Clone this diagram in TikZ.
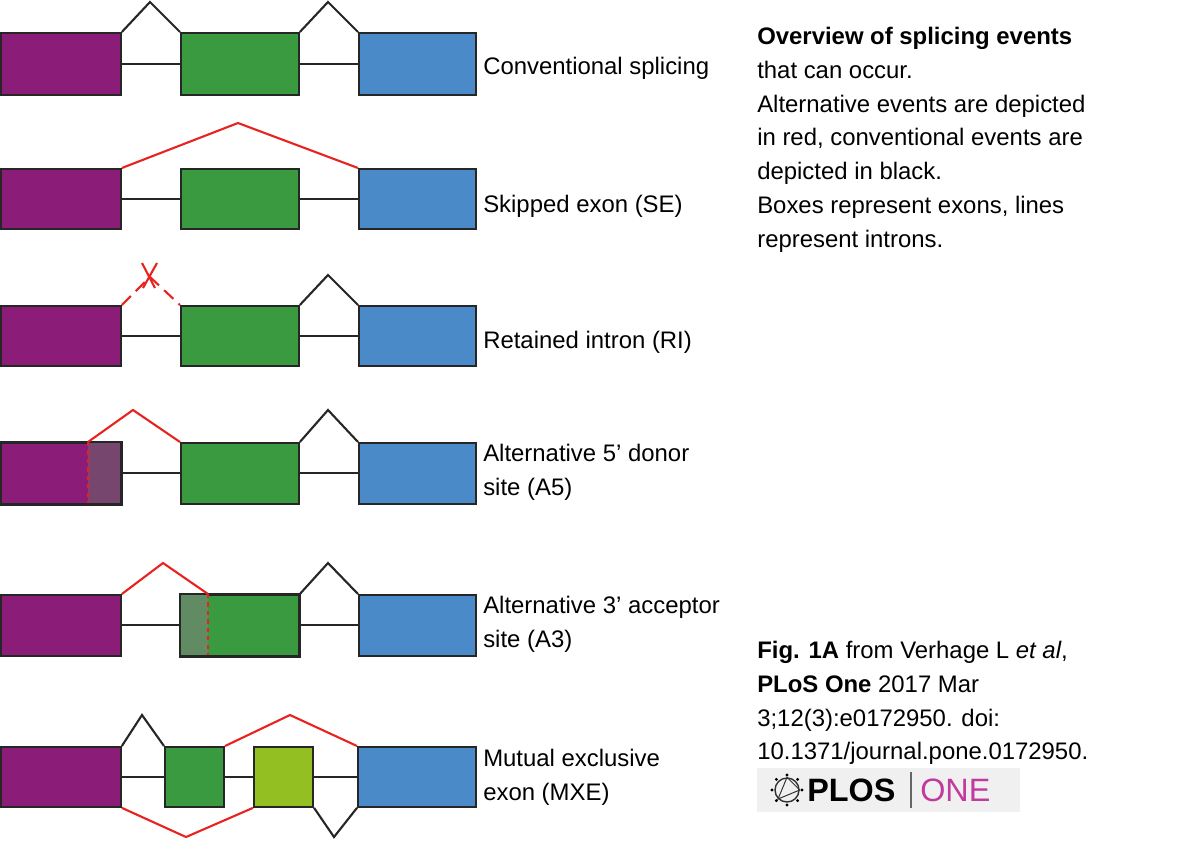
\documentclass[tikz,border=0pt]{standalone}
\usepackage{fontspec}
\setmainfont{Liberation Sans}
\usetikzlibrary{positioning}
\definecolor{exonA}{HTML}{8B1C77}
\definecolor{exonB}{HTML}{3A9A40}
\definecolor{exonC}{HTML}{4A8AC9}
\definecolor{exonD}{HTML}{93BF22}
\definecolor{altred}{HTML}{E8231F}
\definecolor{plosmag}{HTML}{C23A9E}
\tikzset{
  exon/.style={draw=black!85, line width=1.3pt, inner sep=0pt, anchor=north west},
  intron/.style={draw=black!85, line width=1.5pt},
  alt/.style={draw=altred, line width=1.5pt},
  lab/.style={anchor=west, align=left, font=\fontsize{17}{24}\selectfont, inner sep=0pt}
}
\begin{document}
\begin{tikzpicture}[x=0.025cm, y=-0.025cm]
    \useasboundingbox (0,0) rectangle (1200,842);
    % conventional splicing
    \node[exon, fill=exonA, minimum width=3cm, minimum height=1.55cm] (p1) at (0,32) {};
    \node[exon, fill=exonB, minimum width=2.95cm, minimum height=1.55cm] (g1) at (180,32) {};
    \node[exon, fill=exonC, minimum width=2.93cm, minimum height=1.55cm] (b1) at (358,32) {};
    \draw[intron] (p1) -- (g1);
    \draw[intron] (g1) -- (b1);
    \draw[intron] (p1.north east) -- (150,2) -- (g1.north west);
    \draw[intron] (g1.north east) -- (328,2) -- (b1.north west);
    \node[lab] (l1) at (483,68) {Conventional splicing};
    % skipped exon
    \node[exon, fill=exonA, minimum width=3cm, minimum height=1.5cm] (p2) at (0,168) {};
    \node[exon, fill=exonB, minimum width=2.95cm, minimum height=1.5cm] (g2) at (180,168) {};
    \node[exon, fill=exonC, minimum width=2.93cm, minimum height=1.5cm] (b2) at (358,168) {};
    \draw[intron] (p2) -- (g2);
    \draw[intron] (g2) -- (b2);
    \draw[alt] (p2.north east) -- (238,123) -- (b2.north west);
    \node[lab] (l2) at (483,206) {Skipped exon (SE)};
    % retained intron
    \node[exon, fill=exonA, minimum width=3cm, minimum height=1.5cm] (p3) at (0,305) {};
    \node[exon, fill=exonB, minimum width=2.95cm, minimum height=1.5cm] (g3) at (180,305) {};
    \node[exon, fill=exonC, minimum width=2.93cm, minimum height=1.5cm] (b3) at (358,305) {};
    \draw[intron] (p3) -- (g3);
    \draw[intron] (g3) -- (b3);
    \draw[alt, dashed, dash pattern=on 9pt off 5pt] (p3.north east) -- (150,277) -- (g3.north west);
    \draw[alt] (142,263) -- (155,288);
    \draw[alt] (157,263) -- (143,288);
    \draw[intron] (g3.north east) -- (328,275) -- (b3.north west);
    \node[lab] (l3) at (483,342) {Retained intron (RI)};
    % alternative 5' donor
    \node[exon, fill=exonA, minimum width=3cm, minimum height=1.52cm] (p4) at (0,442) {};
    \fill[fill=black!20!exonA!55!gray] (88,442) rectangle (120,503);
    \draw[draw=black!85, line width=1.3pt] (p4.north west) rectangle (p4.south east);
    \draw[alt, dashed] (88,442) -- (88,503);
    \node[exon, fill=exonB, minimum width=2.95cm, minimum height=1.52cm] (g4) at (180,442) {};
    \node[exon, fill=exonC, minimum width=2.93cm, minimum height=1.52cm] (b4) at (358,442) {};
    \draw[intron] (p4) -- (g4);
    \draw[intron] (g4) -- (b4);
    \draw[alt] (88,442) -- (133,410) -- (g4.north west);
    \draw[intron] (g4.north east) -- (328,410) -- (b4.north west);
    \node[lab] (l4) at (483,472) {Alternative 5’ donor\\site (A5)};
    % alternative 3' acceptor
    \node[exon, fill=exonA, minimum width=3cm, minimum height=1.52cm] (p5) at (0,594) {};
    \node[exon, fill=exonB, minimum width=2.95cm, minimum height=1.52cm] (g5) at (180,594) {};
    \fill[fill=exonB!45!gray] (180,594) rectangle (208,655);
    \draw[draw=black!85, line width=1.3pt] (g5.north west) rectangle (g5.south east);
    \draw[alt, dashed] (208,594) -- (208,655);
    \node[exon, fill=exonC, minimum width=2.93cm, minimum height=1.52cm] (b5) at (358,594) {};
    \draw[intron] (p5) -- (g5);
    \draw[intron] (g5) -- (b5);
    \draw[alt] (p5.north east) -- (163,563) -- (208,594);
    \draw[intron] (g5.north east) -- (328,563) -- (b5.north west);
    \node[lab] (l5) at (483,624) {Alternative 3’ acceptor\\site (A3)};
    % mutual exclusive exon
    \node[exon, fill=exonA, minimum width=3cm, minimum height=1.5cm] (p6) at (0,746) {};
    \node[exon, fill=exonB, minimum width=1.48cm, minimum height=1.5cm] (g6) at (164,746) {};
    \node[exon, fill=exonD, minimum width=1.48cm, minimum height=1.5cm] (d6) at (253,746) {};
    \node[exon, fill=exonC, minimum width=2.95cm, minimum height=1.5cm] (b6) at (357,746) {};
    \draw[intron] (p6) -- (g6);
    \draw[intron] (g6) -- (d6);
    \draw[intron] (d6) -- (b6);
    \draw[intron] (p6.north east) -- (142,715) -- (g6.north west);
    \draw[alt] (g6.north east) -- (290,715) -- (b6.north west);
    \draw[alt] (p6.south east) -- (186,837) -- (d6.south west);
    \draw[intron] (d6.south east) -- (334,837) -- (b6.south west);
    \node[lab] (l6) at (483,777) {Mutual exclusive\\exon (MXE)};
    % description
    \node[lab, anchor=north west] (desc) at (757,27) {\textbf{Overview of splicing events}\\that can occur.\\Alternative events are depicted\\in red, conventional events are\\depicted in black.\\Boxes represent exons, lines\\represent introns.};
    \node[lab, anchor=north west] (cite) at (757,641) {\textbf{Fig. 1A} from Verhage L \textit{et al},\\\textbf{PLoS One} 2017 Mar\\3;12(3):e0172950. doi:\\10.1371/journal.pone.0172950.};
    % logo
    \fill[black!6] (757,768) rectangle (1020,812);
    \node[circle, draw=black!80, line width=1pt, minimum size=0.6cm, inner sep=0pt] (globe) at (787,790) {};
    \foreach \a in {0,45,...,315}
      \fill[black] (globe.center) ++(\a:15) circle (1.6);
    \draw[black!80, line width=0.7pt] (globe.north) -- (globe.south west) -- (globe.east) -- cycle;
    \node[anchor=west, inner sep=0pt, font=\fontsize{23}{23}\bfseries\selectfont] (plos) at (807,790) {PLOS};
    \draw[black!60, line width=1pt] (911,772) -- (911,808);
    \node[anchor=west, inner sep=0pt, text=plosmag, font=\fontsize{23}{23}\selectfont] (one) at (920,790) {ONE};
\end{tikzpicture}
\end{document}
